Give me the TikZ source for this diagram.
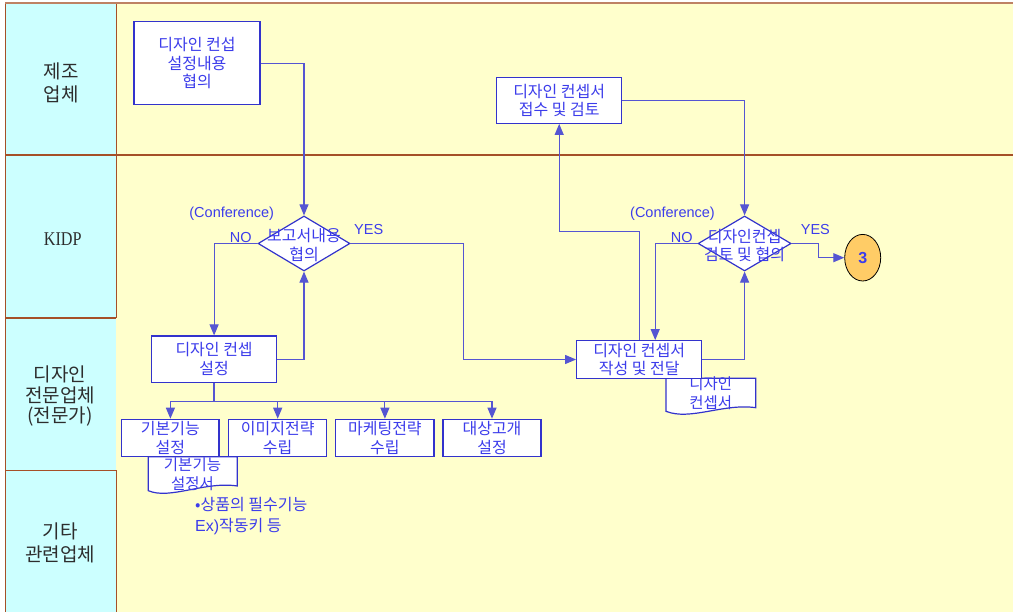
\documentclass[tikz,border=0pt]{standalone}
\usepackage{fontspec}
\setmainfont{Noto Sans CJK KR}
\newfontfamily\latf{Liberation Sans}
\newfontfamily\serf[FakeStretch=0.83]{Liberation Serif}
\usetikzlibrary{arrows.meta,shapes.geometric}
\definecolor{cyanbg}{RGB}{204,255,255}
\definecolor{yellowbg}{RGB}{255,255,204}
\definecolor{lanebrown}{RGB}{165,80,40}
\definecolor{toptan}{RGB}{190,130,100}
\definecolor{boxc}{RGB}{51,51,204}
\definecolor{linec}{RGB}{85,85,210}
\definecolor{txtc}{RGB}{60,60,235}
\definecolor{lanetxt}{RGB}{45,45,45}
\definecolor{orangec}{RGB}{255,204,102}
\begin{document}
\begin{tikzpicture}[x=1pt,y=-1pt,
  box/.style={draw=boxc, line width=1.2pt, fill=white, inner sep=0pt, text=txtc,
    font=\fontsize{16}{18.5}\selectfont, align=center},
  dia/.style={draw=boxc, line width=1.2pt, fill=white, diamond, inner sep=0pt},
  diatext/.style={text=txtc, font=\fontsize{16}{18.5}\selectfont, align=center, inner sep=0pt},
  conn/.style={draw=linec, line width=1.1pt},
  arr/.style={conn, -{Triangle[length=11pt,width=9pt]}},
  lanelbl/.style={text=lanetxt, align=center, inner sep=0pt},
  latlbl/.style={text=txtc, font=\latf\fontsize{14.5}{17}\selectfont, inner sep=0pt},
  docshape/.style={draw=boxc, line width=1.2pt, fill=white},
  doctext/.style={text=txtc, font=\fontsize{15.5}{18.3}\selectfont, align=center, inner sep=0pt},
  notetext/.style={text=txtc, font=\fontsize{16}{20.7}\selectfont, align=left, inner sep=0pt}
]
\useasboundingbox (0,0) rectangle (1013,612);
% background
\fill[white] (0,0) rectangle (1013,612);
\fill[yellowbg] (116,3) rectangle (1013,612);
% lane header cells
\draw[lanebrown, line width=1pt, fill=cyanbg] (5,3) rectangle (116,155);
\draw[lanebrown, line width=1pt, fill=cyanbg] (5,156) rectangle (116,317.7);
\fill[cyanbg] (5,318.3) rectangle (116,470);
\draw[lanebrown, line width=1pt] (116,318.3) -- (5,318.3) -- (5,470);
\draw[lanebrown, line width=1pt, fill=cyanbg] (116,612) -- (116,470.7) -- (5,470.7) -- (5,612);
\draw[toptan, line width=1.6pt] (5,3) -- (1013,3);
\draw[lanebrown, line width=1.6pt] (116,155) -- (1013,155);
% lane labels
\node[lanelbl, font=\fontsize{19}{23}\selectfont] (l1) at (61,82.5) {제조\\업체};
\node[lanelbl, font=\serf\fontsize{19.5}{20}\selectfont] (l2) at (62.7,239.3) {KIDP};
\node[lanelbl, font=\fontsize{19}{20.4}\selectfont] (l3) at (60,396.4) {디자인\\전문업체\\(전문가)};
\node[lanelbl, font=\fontsize{19}{22.6}\selectfont] (l4) at (60,543) {기타\\관련업체};
% documents (under boxes)
\path[docshape] (148.3,456.7) -- (237.3,456.7) -- (237.3,486)
  .. controls (205,481) and (170,500) .. (148.3,490.7) -- cycle;
\node[doctext] (doc1) at (192.5,474.2) {기본기능\\설정서};
\path[docshape] (666,378.3) -- (755.7,378.3) -- (755.7,407.7)
  .. controls (724,403) and (690,421) .. (666,411.3) -- cycle;
\node[doctext] (doc2) at (710.8,393.3) {디자인\\컨셉서};
% boxes
\node[box, minimum width=126pt, minimum height=83pt] (A) at (197,63.4) {디자인 컨섭\\설정내용\\협의};
\node[box, minimum width=125pt, minimum height=46pt] (B) at (559.2,100.3) {디자인 컨셉서\\접수 및 검토};
\node[box, minimum width=125pt, minimum height=46.3pt] (C) at (214.1,359.2) {디자인 컨셉\\설정};
\node[box, minimum width=125pt, minimum height=37.6pt] (E) at (639.2,359.5) {디자인 컨셉서\\작성 및 전달};
\node[box, minimum width=97.3pt, minimum height=37.4pt] (F1) at (170.4,438) {기본기능\\설정};
\node[box, minimum width=98pt, minimum height=37.4pt] (F2) at (277.7,438) {이미지전략\\수립};
\node[box, minimum width=98.3pt, minimum height=37.4pt] (F3) at (384.9,438) {마케팅전략\\수립};
\node[box, minimum width=98pt, minimum height=37.4pt] (F4) at (492,438) {대상고개\\설정};
% diamonds
\node[dia, minimum width=92pt, minimum height=55pt] (D1) at (304,243.5) {};
\node[dia, minimum width=93pt, minimum height=55pt] (D2) at (744.6,243.5) {};
\node[diatext] (D1t) at (304,245.2) {보고서내용\\협의};
\node[diatext] (D2t) at (744.6,245.5) {디자인컨셉\\검토 및 협의};
% connector circle
\node[ellipse, draw=black, line width=0.8pt, fill=orangec, minimum width=36pt,
  minimum height=46.6pt, inner sep=0pt, text=txtc,
  font=\latf\bfseries\fontsize{16}{16}\selectfont] (C3) at (862.7,257.7) {3};
% labels
\node[latlbl] (cf1) at (231.7,213.3) {(Conference)};
\node[latlbl] (no1) at (240.8,237.7) {NO};
\node[latlbl] (yes1) at (368.7,230) {YES};
\node[latlbl] (cf2) at (672.5,213.3) {(Conference)};
\node[latlbl] (no2) at (681.8,237.7) {NO};
\node[latlbl] (yes2) at (815.4,230) {YES};
\node[notetext, anchor=west] (note) at (195,516.3) {•상품의 필수기능\\{\latf Ex)}작동키 등};
% connectors
\draw[arr] (A.east) -| (D1.north);
\draw[arr] (D1.west) -| (C.north);
\draw[arr] (C.east) -| (D1.south);
\draw[arr] (D1.east) -- ++(113.3,0) |- (E.west);
\draw[arr] (E.north) -- (E.north |- 0,231.7) -| (B.south);
\draw[arr] (B.east) -| (D2.north);
\draw[arr] (D2.west) -| ([xshift=16pt]E.north);
\draw[arr] (E.east) -| (D2.south);
\draw[arr] (D2.east) -- ++(26.7,0) |- (C3.west);
\draw[conn, line width=1.6pt] (C.south) -- ++(0,18.4) coordinate (tj);
\draw[conn] (F1.north |- tj) -- (F4.north |- tj);
\draw[arr] (tj) -| (F1.north);
\draw[arr] (tj) -| (F2.north);
\draw[arr] (tj) -| (F3.north);
\draw[arr] (tj) -| (F4.north);
\end{tikzpicture}
\end{document}
